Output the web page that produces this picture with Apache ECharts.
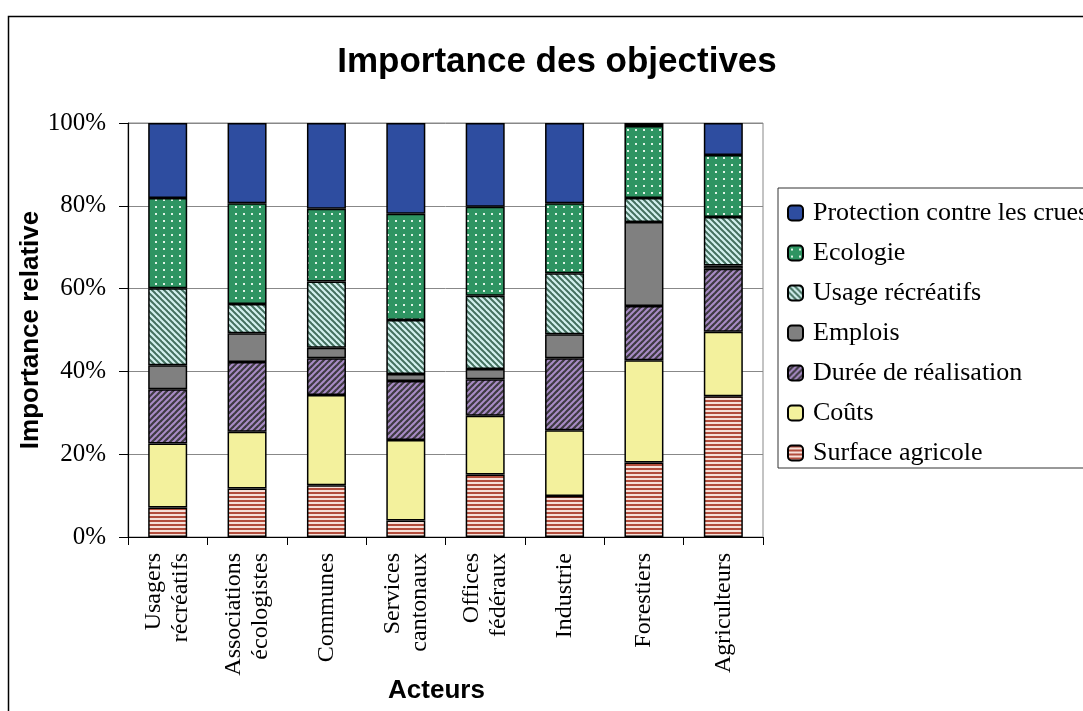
<!DOCTYPE html>
<html>
<head>
<meta charset="utf-8">
<script src="https://cdn.jsdelivr.net/npm/echarts@6/dist/echarts.min.js"></script>
<style>
html,body{margin:0;padding:0;background:#fff;}
#chart{width:1083px;height:711px;}
</style>
</head>
<body>
<div id="chart"></div>
<script>
// ---- data ----
const categories = ['Usagers\nrécréatifs', 'Associations\nécologistes', 'Communes', 'Services\ncantonaux', 'Offices\nfédéraux', 'Industrie', 'Forestiers', 'Agriculteurs'];
const surfaceAgricole = [7.1, 11.7, 12.5, 4.0, 15.1, 9.9, 18.0, 34.0];
const couts = [15.5, 13.7, 21.8, 19.4, 14.2, 15.9, 24.7, 15.6];
const dureeRealisation = [13.1, 16.9, 8.9, 14.3, 8.8, 17.4, 13.1, 15.2];
const emplois = [5.8, 6.9, 2.5, 1.7, 2.5, 5.8, 20.3, 0.8];
const usageRecreatifs = [18.6, 7.1, 16.0, 13.0, 17.7, 14.7, 5.8, 11.7];
const ecologie = [21.8, 24.3, 17.6, 25.7, 21.5, 16.9, 17.4, 15.0];
const protectionCrues = [18.1, 19.4, 20.7, 21.9, 20.2, 19.4, 0.7, 7.7];
const yTicks = [0, 20, 40, 60, 80, 100];

// ---- patterns ----
function makePattern(w, h, draw) {
  const c = document.createElement('canvas');
  c.width = w; c.height = h;
  const ctx = c.getContext('2d');
  draw(ctx, w, h);
  return { image: c, repeat: 'repeat' };
}
const patSurface = makePattern(4, 4, (ctx) => {
  ctx.fillStyle = '#f6e0d8'; ctx.fillRect(0, 0, 4, 4);
  ctx.fillStyle = '#b24d3c'; ctx.fillRect(0, 0, 4, 2);
});
const patDuree = makePattern(6, 6, (ctx) => {
  ctx.fillStyle = '#a98cc6'; ctx.fillRect(0, 0, 6, 6);
  ctx.strokeStyle = '#3e3a42'; ctx.lineWidth = 2.2;
  [-6, 0, 6].forEach((o) => {
    ctx.beginPath(); ctx.moveTo(o - 1, 7); ctx.lineTo(o + 7, -1); ctx.stroke();
  });
});
const patUsage = makePattern(6, 6, (ctx) => {
  ctx.fillStyle = '#d2f0ee'; ctx.fillRect(0, 0, 6, 6);
  ctx.strokeStyle = '#44705f'; ctx.lineWidth = 2;
  [-6, 0, 6].forEach((o) => {
    ctx.beginPath(); ctx.moveTo(o - 1, -1); ctx.lineTo(o + 7, 7); ctx.stroke();
  });
});
const patEco = makePattern(8, 7, (ctx) => {
  ctx.fillStyle = '#2e9462'; ctx.fillRect(0, 0, 8, 7);
  ctx.fillStyle = '#dff3e6'; ctx.fillRect(3, 3, 2, 2);
});

const serif = "'Liberation Serif', 'Times New Roman', serif";
const sans = "'Liberation Sans', Arial, sans-serif";

function bar(name, data, color) {
  return {
    name, type: 'bar', stack: 'total', data, barWidth: 39,
    itemStyle: { color, borderColor: '#000', borderWidth: 1.5 },
    emphasis: { disabled: true }
  };
}

const chart = echarts.init(document.getElementById('chart'), null, { renderer: 'canvas' });
chart.setOption({
  animation: false,
  backgroundColor: '#fff',
  title: {
    text: 'Importance des objectives',
    left: 552, top: 40, textAlign: 'center',
    textStyle: { fontFamily: sans, fontWeight: 'bold', fontSize: 35, color: '#000' }
  },
  graphic: [{
    type: 'rect', silent: true, z: -10,
    shape: { x: 8.5, y: 16.5, width: 1200, height: 900 },
    style: { fill: 'none', stroke: '#000', lineWidth: 1.5 }
  }],
  legend: {
    orient: 'vertical', left: 778, top: 188,
    data: ['Protection contre les crues', 'Ecologie', 'Usage récréatifs', 'Emplois', 'Durée de réalisation', 'Coûts', 'Surface agricole'],
    itemWidth: 15, itemHeight: 15, itemGap: 14,
    padding: [12, 10, 2, 9],
    borderColor: '#333', borderWidth: 1,
    textStyle: { fontFamily: serif, fontSize: 26, color: '#000', padding: [0, 0, 0, 5] },
    selectedMode: false
  },
  grid: {
    left: 128, right: 320, top: 123, bottom: 174,
    outerBoundsMode: 'none', containLabel: false,
    show: true, borderColor: '#888', borderWidth: 1, backgroundColor: 'transparent'
  },
  xAxis: {
    type: 'category', data: categories,
    name: 'Acteurs', nameLocation: 'middle', nameGap: 141, nameMoveOverlap: false,
    nameTextStyle: { fontFamily: sans, fontWeight: 'bold', fontSize: 26, color: '#000', padding: [0, 18, 0, 0] },
    axisLine: { lineStyle: { color: '#000', width: 1.2 } },
    axisTick: { show: true, length: 8, lineStyle: { color: '#000' } },
    axisLabel: { rotate: 90, margin: 16, fontFamily: serif, fontSize: 24, lineHeight: 27, color: '#000' }
  },
  yAxis: {
    type: 'value', min: yTicks[0], max: yTicks[yTicks.length - 1], interval: 20,
    name: 'Importance relative', nameLocation: 'middle', nameGap: 84, nameMoveOverlap: false,
    nameTextStyle: { fontFamily: sans, fontWeight: 'bold', fontSize: 26, color: '#000' },
    axisLine: { show: true, lineStyle: { color: '#000', width: 1.2 } },
    axisTick: { show: true, length: 9, lineStyle: { color: '#000' } },
    axisLabel: { formatter: '{value}%', margin: 22, fontFamily: serif, fontSize: 25, color: '#000' },
    splitLine: { show: true, lineStyle: { color: '#888', width: 1 } }
  },
  series: [
    bar('Surface agricole', surfaceAgricole, patSurface),
    bar('Coûts', couts, '#f3f19d'),
    bar('Durée de réalisation', dureeRealisation, patDuree),
    bar('Emplois', emplois, '#808080'),
    bar('Usage récréatifs', usageRecreatifs, patUsage),
    bar('Ecologie', ecologie, patEco),
    bar('Protection contre les crues', protectionCrues, '#2e4da0')
  ]
});
</script>
</body>
</html>
